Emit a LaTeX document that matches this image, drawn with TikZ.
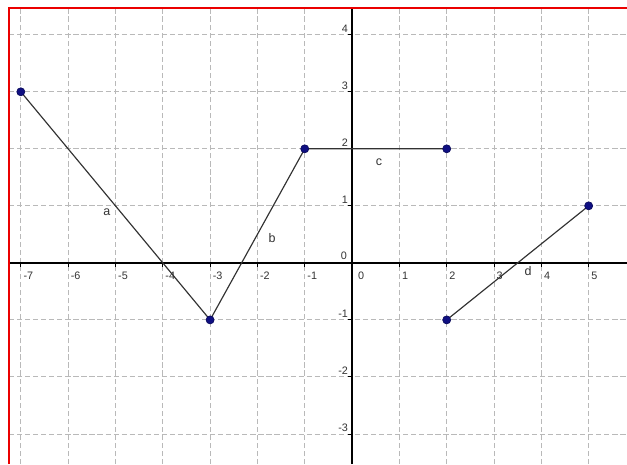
\documentclass[tikz,border=0pt]{standalone}
\usepackage{fontspec}
\setmainfont{Liberation Sans}
\definecolor{gridgray}{RGB}{185,185,185}
\definecolor{seggray}{RGB}{50,50,50}
\definecolor{dotblue}{RGB}{15,15,130}
\definecolor{framered}{RGB}{235,0,0}
\begin{document}
\begin{tikzpicture}[x=1cm,y=1.205cm,
  gridline/.style={draw=gridgray,line width=0.5pt,dash pattern=on 1.1mm off 0.6mm},
  axisline/.style={draw=black,line width=0.8pt},
  seg/.style={draw=seggray,line width=0.7pt},
  ticklab/.style={font=\fontsize{6.5}{7}\selectfont,text=black!80,inner sep=0pt},
  seglab/.style={font=\fontsize{7.5}{8}\selectfont,text=black!80,inner sep=0pt},
  dot/.style={circle,fill=dotblue,draw=dotblue!70!black,inner sep=0pt,minimum size=0.17cm}]
\useasboundingbox (-7.44,-3.53) rectangle (5.81,4.61);
% grid
\foreach \i in {-7,...,5} \draw[gridline] (\i,-3.53) -- (\i,4.47);
\foreach \j in {-3,...,4} \draw[gridline] (-7.25,\j) -- (5.81,\j);
% axes
\draw[axisline] (-7.25,0) -- (5.81,0);
\draw[axisline] (0,-3.53) -- (0,4.47);
% ticks and labels
\foreach \i in {-7,...,-1,1,2,...,5} {
  \draw[line width=0.5pt] (\i,0) -- (\i,-0.07);
  \node[ticklab,anchor=west] at (\i+0.05,-0.22) {\i};
}
\node[ticklab,anchor=west] at (0.12,-0.22) {0};
\foreach \j in {-3,...,-1,1,2,...,4} {
  \draw[line width=0.5pt] (0,\j) -- (-0.08,\j);
  \node[ticklab,anchor=east] at (-0.08,\j+0.11) {\j};
}
\node[ticklab,anchor=east] at (-0.1,0.13) {0};
% frame
\draw[framered,line width=1.7pt] (-7.25,-3.53) -- (-7.25,4.47) -- (5.81,4.47);
% points
\coordinate (A) at (-7,3);
\coordinate (B) at (-3,-1);
\coordinate (C) at (-1,2);
\coordinate (D) at (2,2);
\coordinate (E) at (2,-1);
\coordinate (F) at (5,1);
\draw[seg] (A) -- (B) -- (C) -- (D);
\draw[seg] (E) -- (F);
\foreach \p in {A,B,C,D,E,F} \node[dot] (d\p) at (\p) {};
% segment labels
\node[seglab] (la) at (-5.18,0.88) {a};
\node[seglab] (lb) at (-1.69,0.44) {b};
\node[seglab] (lc) at (0.57,1.77) {c};
\node[seglab] (ld) at (3.72,-0.14) {d};
\end{tikzpicture}
\end{document}
